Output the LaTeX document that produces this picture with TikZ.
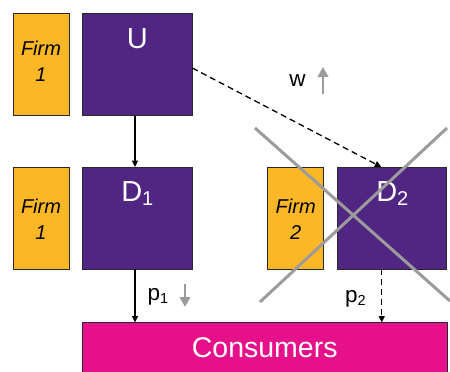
\documentclass[tikz,border=0pt]{standalone}
\usepackage{fontspec}
\setmainfont{Liberation Sans}
\usetikzlibrary{arrows.meta,calc}
\definecolor{firmorange}{RGB}{251,183,38}
\definecolor{boxpurple}{RGB}{81,38,131}
\definecolor{consmagenta}{RGB}{230,16,138}
\definecolor{xgray}{RGB}{155,155,155}
\definecolor{edgedark}{RGB}{40,40,40}
\newcommand{\bigsub}[1]{\raisebox{-4pt}{\fontsize{20}{20}\selectfont #1}}
\newcommand{\smallsub}[1]{\raisebox{-3.3pt}{\fontsize{14.5}{14.5}\selectfont #1}}
\tikzset{
  firmbox/.style={draw=edgedark, line width=0.9pt, fill=firmorange, minimum width=56pt, minimum height=102pt, inner sep=0pt, outer sep=0pt},
  purplebox/.style={draw=edgedark, line width=0.9pt, fill=boxpurple, minimum width=110pt, minimum height=102pt, inner sep=0pt, outer sep=0pt},
  consbox/.style={draw=edgedark, line width=0.9pt, fill=consmagenta, minimum width=365pt, minimum height=51pt, inner sep=0pt, outer sep=0pt, text=white, font=\fontsize{28.5}{30}\selectfont},
  firmtext/.style={align=center, inner sep=0pt, font=\fontsize{20}{26}\selectfont\itshape},
  bigtext/.style={inner sep=0pt, text=white, font=\fontsize{29}{30}\selectfont},
  midtext/.style={inner sep=0pt, font=\fontsize{22.5}{24}\selectfont},
  solidarrow/.style={line width=1.2pt, -{Triangle[width=6pt,length=6.5pt]}},
  dasharrow/.style={line width=1.3pt, dash pattern=on 6pt off 4pt, -{Triangle[width=6pt,length=6.5pt]}},
  grayarrow/.style={line width=2.8pt, xgray, -{Triangle[width=10.5pt,length=10pt]}},
  crossline/.style={line width=3pt, xgray}
}
\begin{document}
\begin{tikzpicture}[x=1pt,y=-1pt]
\useasboundingbox (0,0) rectangle (450,372);
% top row
\node[firmbox] (f1) at (41,64.5) {};
\node[firmtext] (f1t) at (41,61) {Firm\\1};
\node[purplebox] (U) at (137.3,64.5) {};
\node[bigtext, anchor=base] (Ut) at (137.3,48.3) {U};
% middle row
\node[firmbox] (f2) at (41,218) {};
\node[firmtext] (f2t) at (41,219) {Firm\\1};
\node[purplebox] (D1) at (137.3,218) {};
\node[bigtext, anchor=base] (D1t) at (137.3,201.7) {D\bigsub{1}};
\node[firmbox] (f3) at (295.7,218) {};
\node[firmtext] (f3t) at (295.7,219) {Firm\\2};
\node[purplebox, minimum width=109pt] (D2) at (392.3,218) {};
\node[bigtext, anchor=base] (D2t) at (392.3,201.7) {D\bigsub{2}};
% consumers
\node[consbox] (C) at (264.7,348) {Consumers};
% connectors
\draw[solidarrow] ([xshift=-2.3pt]U.south) -- ([xshift=-2.3pt]D1.north);
\draw[solidarrow] ([xshift=-2.3pt]D1.south) -- ([xshift=-2.3pt]D1.south |- C.north);
\draw[dasharrow] ([yshift=-3.5pt]U.east) -- ([xshift=-11pt]D2.north);
\draw[dasharrow] ([xshift=-10.6pt]D2.south) -- ([xshift=-10.6pt]D2.south |- C.north);
% cross
\coordinate (xa1) at (255,128);
\coordinate (xa2) at (450,301);
\coordinate (xb1) at (447,128);
\coordinate (xb2) at (260,302);
\draw[crossline] (xa1) -- (xa2);
\draw[crossline] (xb1) -- (xb2);
% labels
\node[midtext, anchor=base] (w) at (297.5,86) {w};
\coordinate (wa1) at (323,94);
\coordinate (wa2) at (323,67);
\draw[grayarrow] (wa1) -- (wa2);
\node[midtext, anchor=base west] (p1) at (147.5,300) {p\smallsub{1}};
\coordinate (pa1) at (185,284);
\coordinate (pa2) at (185,307);
\draw[grayarrow] (pa1) -- (pa2);
\node[midtext, anchor=base west] (p2) at (345,302) {p\smallsub{2}};
\end{tikzpicture}
\end{document}
